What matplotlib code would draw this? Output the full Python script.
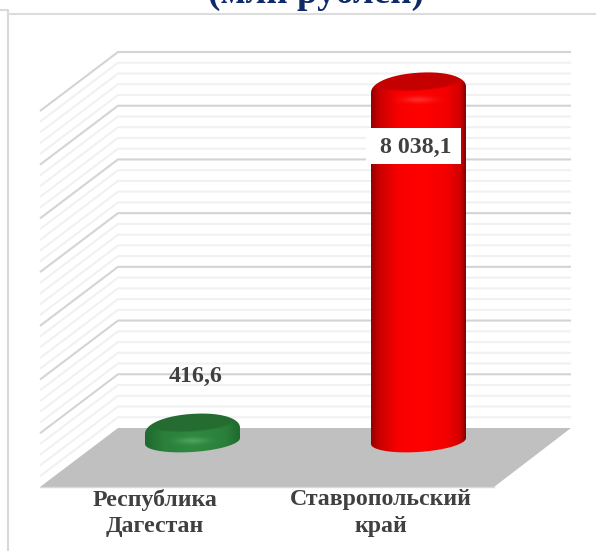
import numpy as np
import matplotlib
matplotlib.use("Agg")
import matplotlib.pyplot as plt
from matplotlib.colors import LinearSegmentedColormap, to_rgb
from matplotlib.patches import Polygon, PathPatch
from matplotlib.path import Path

categories = ["Республика\nДагестан", "Ставропольский\nкрай"]
values = [416.6, 8038.1]
value_labels = ["416,6", "8 038,1"]
title = "(млн рублей)"
minor_step = 240
y_max = 8400

W, H = 596, 551
plt.rcParams["font.family"] = ["Liberation Serif", "DejaVu Serif"]
fig = plt.figure(figsize=(W / 100, H / 100), dpi=100, facecolor="white")
ax = fig.add_axes([0, 0, 1, 1])
ax.set_xlim(0, W)
ax.set_ylim(H, 0)
ax.axis("off")

# projection of the 3D chart box
BACK_L, BACK_R, BACK_Y0, BACK_TOP = 118, 571, 428, 52
DX, DY = -78, 59
k = (BACK_Y0 - BACK_TOP) / y_max


def vy(v):
    return BACK_Y0 - v * k


# outer frame
ax.plot([0, 8, 8], [9.5, 9.5, H], color="#d9d9d9", lw=1.5)
ax.plot([8, W], [14, 14], color="#dcdcdc", lw=1.5)

# grid on side and back walls
for i, v in enumerate(np.arange(0, y_max + 1, minor_step)):
    if v == 0:
        continue
    major = i % 5 == 0
    ax.plot([BACK_L + DX, BACK_L, BACK_R], [vy(v) + DY, vy(v), vy(v)],
            color="#d4d4d4" if major else "#f1f1f1",
            lw=1.5, solid_joinstyle="miter", solid_capstyle="butt", zorder=1)

# floor
ax.add_patch(Polygon([(BACK_L, BACK_Y0), (BACK_R, BACK_Y0),
                      (BACK_R + DX + 1, BACK_Y0 + DY), (BACK_L + DX, BACK_Y0 + DY)],
                     closed=True, fc="#c0c0c0", ec="none", zorder=2))
ax.plot([BACK_L + DX, BACK_R + DX + 1], [BACK_Y0 + DY] * 2, color="#d9d9d9", lw=1, zorder=2)

# cylinders
centers = [192.5, 418.5]
half_w = 47.5
BASE_Y = 441
S_BOT, S_TOP, S_SHOULDER = 11, 8.5, 17
TILT = np.tan(np.radians(3.6))

red_side = LinearSegmentedColormap.from_list("r", [
    (0, "#960000"), (0.08, "#c80000"), (0.28, "#f80000"), (0.55, "#ff0000"),
    (0.8, "#f20000"), (0.95, "#d00000"), (1, "#800000")])
green_side = LinearSegmentedColormap.from_list("g", [
    (0, "#1f6a2e"), (0.2, "#2a7f3a"), (0.5, "#2f8a40"), (0.85, "#2a7f3a"), (1, "#1f6a2e")])
styles = [
    dict(cmap=green_side, top="#256c31", spot="#62b873"),
    dict(cmap=red_side, top="#c40000", spot="#ff5050"),
]


def arc(cx, cy, hw, s, t0, t1, power=1.0, n=80):
    t = np.radians(np.linspace(t0, t1, n))
    c, sn = np.cos(t), np.sin(t)
    x = hw * np.sign(c) * np.abs(c) ** power
    y = s * np.sign(sn) * np.abs(sn) ** power - TILT * x
    return np.column_stack([cx + x, cy + y])


for cx, val, st in zip(centers, values, styles):
    top_y = BASE_Y - val * k
    lower = arc(cx, BASE_Y, half_w, S_BOT, 180, 0)
    upper = arc(cx, top_y + S_SHOULDER - S_TOP, half_w, S_SHOULDER, 0, -180, power=0.95)
    outline = np.vstack([lower, upper, lower[:1]])

    y0, y1 = top_y - 20, BASE_Y + 20
    xs = np.linspace(cx - half_w, cx + half_w, 200)
    ys = np.linspace(y0, y1, max(int((y1 - y0) * 3), 60))
    X, Y = np.meshgrid(xs, ys)
    rgb = st["cmap"]((X - xs[0]) / (xs[-1] - xs[0]))[..., :3]
    # soft-edged top face
    dx = X - cx
    dy = Y - (top_y - TILT * dx)
    r = np.sqrt((dx / (half_w * 0.84)) ** 2 + (dy / S_TOP) ** 2)
    m = np.clip((1.18 - r) / 0.22, 0, 1)[..., None]
    rgb = rgb * (1 - m) + np.array(to_rgb(st["top"])) * m
    # highlight on the rim
    g = np.exp(-((X - cx) / 15) ** 2 - ((Y - (top_y + 18.5)) / 3) ** 2)[..., None] * 0.55
    rgb = rgb * (1 - g) + np.array(to_rgb(st["spot"])) * g

    img = ax.imshow(rgb, aspect="auto", extent=[xs[0], xs[-1], y1, y0], origin="upper",
                    zorder=3, interpolation="bilinear")
    clip = PathPatch(Path(outline), transform=ax.transData, fc="none", ec="none")
    ax.add_patch(clip)
    img.set_clip_path(clip)

ax.set_xlim(0, W)
ax.set_ylim(H, 0)

# value labels
ax.add_patch(plt.Rectangle((366, 128), 95, 36, fc="white", ec="none", zorder=5))
ax.text(196, 376, value_labels[0], ha="center", va="center", fontsize=17.2, fontweight="bold",
        color="#404040", zorder=6)
ax.text(416, 147, value_labels[1], ha="center", va="center", fontsize=17.2, fontweight="bold",
        color="#404040", zorder=6)

# category labels
for x, c in zip([155, 381], categories):
    ax.text(x, 513, c, ha="center", va="center", fontsize=17.2, fontweight="bold",
            color="#404040", linespacing=1.32, zorder=6)

# cropped title
ax.text(316, 3, title, ha="center", va="baseline", fontsize=26.7, fontweight="bold",
        color="#0f2a66", zorder=6)

fig.savefig("out.png", dpi=100, facecolor="white")
